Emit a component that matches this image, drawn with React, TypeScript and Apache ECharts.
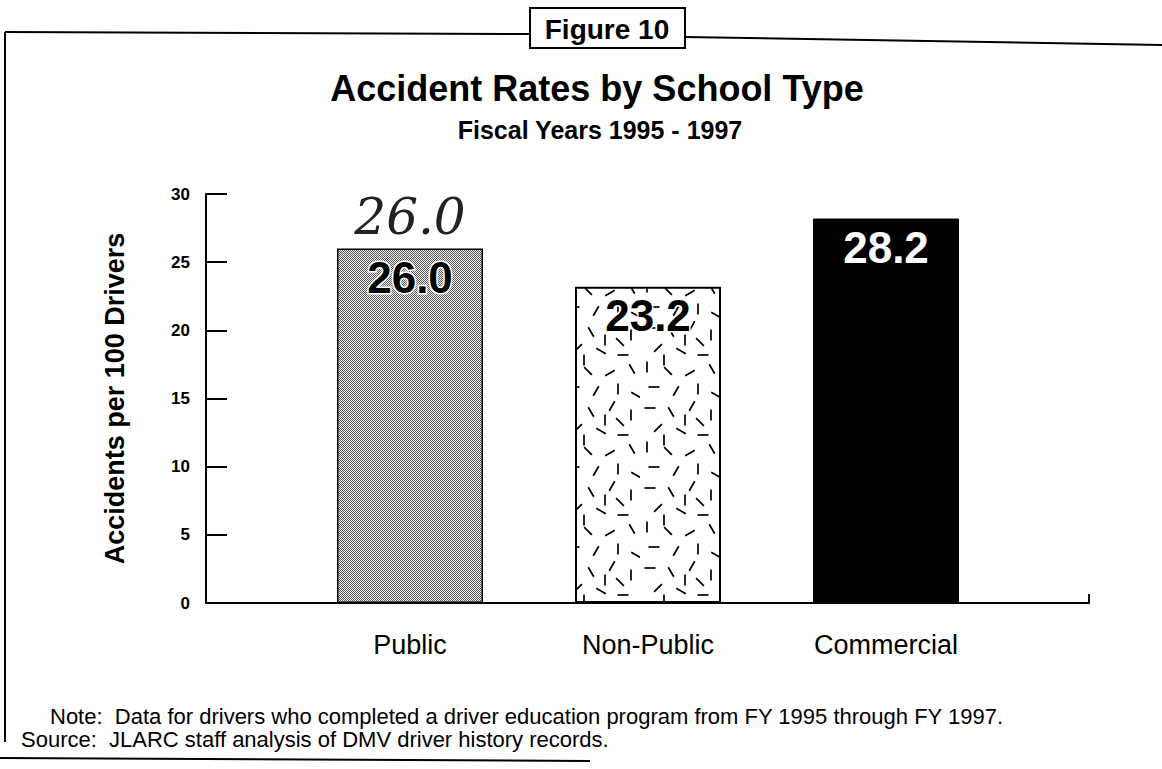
import React, { useEffect, useRef } from "react";
import * as echarts from "echarts";

const categories = ["Public", "Non-Public", "Commercial"];
const rates = [26.0, 23.2, 28.2];
const yMin = 0;
const yMax = 30;
const yStep = 5;
const titleText = "Accident Rates by School Type";
const subtitleText = "Fiscal Years 1995 - 1997";
const figureText = "Figure 10";
const yAxisName = "Accidents per 100 Drivers";
const noteText = "Note:  Data for drivers who completed a driver education program from FY 1995 through FY 1997.";
const sourceText = "Source:  JLARC staff analysis of DMV driver history records.";

const FONT = "'Liberation Sans', Arial, Helvetica, sans-serif";

function makeStipple(): HTMLCanvasElement {
  const c = document.createElement("canvas");
  c.width = 2;
  c.height = 2;
  const ctx = c.getContext("2d")!;
  ctx.fillStyle = "#eeeeee";
  ctx.fillRect(0, 0, 2, 2);
  ctx.fillStyle = "#5a5a5a";
  ctx.fillRect(0, 0, 1, 1);
  ctx.fillRect(1, 1, 1, 1);
  return c;
}

// texture tile: short dashes (x, y, angle in degrees)
const dashTile: [number, number, number][] = [
  [10, 8, 0], [31, 12, 60], [52, 6, 120], [71, 15, 90],
  [18, 28, 135], [41, 31, 30], [63, 35, 0], [7, 47, 90],
  [28, 51, 45], [50, 53, 150], [72, 49, 60], [14, 67, 0],
  [36, 71, 120], [58, 69, 90], [76, 75, 30], [45, 20, 90],
  [24, 40, 90], [60, 22, 45],
];

function makeDashes(): HTMLCanvasElement {
  const c = document.createElement("canvas");
  c.width = 80;
  c.height = 80;
  const ctx = c.getContext("2d")!;
  ctx.fillStyle = "#ffffff";
  ctx.fillRect(0, 0, 80, 80);
  ctx.strokeStyle = "#000000";
  ctx.lineWidth = 1.7;
  const len = 11;
  dashTile.forEach(([x, y, a]) => {
    const r = (a * Math.PI) / 180;
    const dx = (Math.cos(r) * len) / 2;
    const dy = (Math.sin(r) * len) / 2;
    ctx.beginPath();
    ctx.moveTo(x - dx, y - dy);
    ctx.lineTo(x + dx, y + dy);
    ctx.stroke();
  });
  return c;
}

export default function App() {
  const ref = useRef<HTMLDivElement>(null);

  useEffect(() => {
    document.body.style.margin = "0";
    if (!ref.current) return;
    const chart = echarts.init(ref.current, undefined, { renderer: "svg" });

    const stipple = makeStipple();
    const dashes = makeDashes();

    const barStyles = [
      {
        color: { image: stipple, repeat: "repeat", imageWidth: 2, imageHeight: 2 },
        borderColor: "#000",
        borderWidth: 1.5,
      },
      {
        color: { image: dashes, repeat: "repeat", imageWidth: 80, imageHeight: 80 },
        borderColor: "#000",
        borderWidth: 2,
      },
      { color: "#000", borderColor: "#000", borderWidth: 1 },
    ];
    const labelColors = ["#000", "#000", "#fff"];
    const haloWidths = [3, 3, 0];

    const option: any = {
      animation: false,
      backgroundColor: "#ffffff",
      textStyle: { fontFamily: FONT, color: "#000" },
      grid: [
        { left: 291, right: 157, top: 194, bottom: 166 },
        { left: 206, right: 73, top: 194, bottom: 166 },
      ],
      xAxis: [
        {
          gridIndex: 0,
          type: "category",
          data: categories,
          axisLine: { show: false },
          axisTick: { show: false },
          axisLabel: { fontSize: 27, color: "#000", margin: 28, fontFamily: FONT },
        },
        {
          gridIndex: 1,
          type: "value",
          min: 0,
          max: 1,
          axisLine: { show: true, onZero: false, lineStyle: { color: "#000", width: 2 } },
          axisTick: { show: false },
          axisLabel: { show: false },
          splitLine: { show: false },
        },
      ],
      yAxis: [
        {
          gridIndex: 0,
          type: "value",
          min: yMin,
          max: yMax,
          interval: yStep,
          show: false,
          splitLine: { show: false },
        },
        {
          gridIndex: 1,
          type: "value",
          min: yMin,
          max: yMax,
          interval: yStep,
          name: yAxisName,
          nameLocation: "middle",
          nameGap: 78,
          nameTextStyle: { fontSize: 27, fontWeight: "bold", color: "#000", fontFamily: FONT },
          axisLine: { show: true, lineStyle: { color: "#000", width: 2 } },
          axisTick: { show: true, inside: true, length: 21, lineStyle: { color: "#000", width: 2 } },
          axisLabel: { fontSize: 17, fontWeight: "bold", color: "#000", margin: 16, fontFamily: FONT },
          splitLine: { show: false },
        },
      ],
      series: [
        {
          type: "bar",
          xAxisIndex: 0,
          yAxisIndex: 0,
          barWidth: 146,
          data: rates.map((v, i) => ({
            value: v,
            itemStyle: barStyles[i],
            label: {
              show: true,
              position: "insideTop",
              distance: 7,
              formatter: v.toFixed(1),
              fontSize: 44,
              fontWeight: "bold",
              fontFamily: FONT,
              color: labelColors[i],
              textBorderColor: "#fff",
              textBorderWidth: haloWidths[i],
            },
          })),
          markPoint: {
            symbol: "rect",
            symbolSize: [1, 1],
            itemStyle: { color: "rgba(0,0,0,0)" },
            data: [
              {
                coord: [0, rates[0]],
                value: rates[0],
                label: {
                  show: true,
                  position: "top",
                  distance: 6,
                  formatter: rates[0].toFixed(1),
                  fontSize: 50,
                  fontStyle: "italic",
                  fontWeight: "normal",
                  fontFamily: "'DejaVu Serif', serif",
                  color: "#222",
                },
              },
            ],
          },
        },
      ],
      graphic: [
        // frame
        { type: "line", shape: { x1: 5, y1: 32, x2: 530, y2: 34 }, style: { stroke: "#000", lineWidth: 2 } },
        { type: "line", shape: { x1: 685, y1: 37, x2: 1162, y2: 45 }, style: { stroke: "#000", lineWidth: 2 } },
        { type: "line", shape: { x1: 5, y1: 32, x2: 5, y2: 742 }, style: { stroke: "#000", lineWidth: 2 } },
        { type: "line", shape: { x1: 0, y1: 758, x2: 590, y2: 761 }, style: { stroke: "#000", lineWidth: 2 } },
        { type: "rect", shape: { x: 530, y: 8, width: 155, height: 40 }, style: { fill: "#fff", stroke: "#000", lineWidth: 2 } },
        {
          type: "text",
          x: 607,
          y: 29,
          style: { text: figureText, fontSize: 28, fontWeight: "bold", fontFamily: FONT, fill: "#000", align: "center", verticalAlign: "middle" },
        },
        {
          type: "text",
          x: 597,
          y: 88,
          style: { text: titleText, fontSize: 36, fontWeight: "bold", fontFamily: FONT, fill: "#000", align: "center", verticalAlign: "middle" },
        },
        {
          type: "text",
          x: 600,
          y: 130,
          style: { text: subtitleText, fontSize: 25, fontWeight: "bold", fontFamily: FONT, fill: "#000", align: "center", verticalAlign: "middle" },
        },
        // x-axis end hook
        { type: "line", shape: { x1: 1089, y1: 603, x2: 1089, y2: 594 }, style: { stroke: "#000", lineWidth: 2 } },
        {
          type: "text",
          x: 50,
          y: 716,
          style: { text: noteText, fontSize: 22, fontFamily: FONT, fill: "#000", align: "left", verticalAlign: "middle" },
        },
        {
          type: "text",
          x: 21,
          y: 739,
          style: { text: sourceText, fontSize: 22, fontFamily: FONT, fill: "#000", align: "left", verticalAlign: "middle" },
        },
      ],
    };

    chart.setOption(option);
    return () => {
      chart.dispose();
    };
  }, []);

  return <div ref={ref} style={{ width: 1162, height: 769 }} />;
}
